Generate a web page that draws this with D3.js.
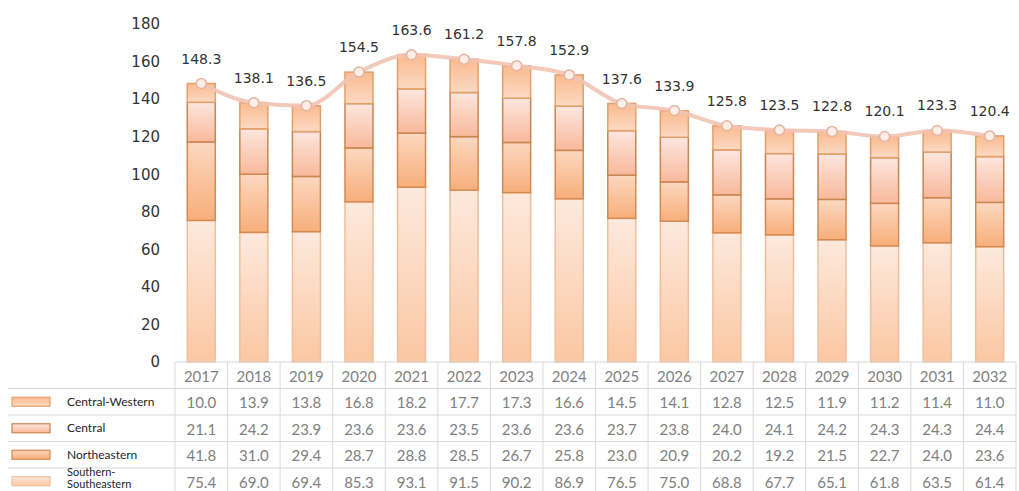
<!DOCTYPE html>
<html>
<head>
<meta charset="utf-8">
<script src="https://cdn.jsdelivr.net/npm/d3@7"></script>
<style>
  html, body { margin: 0; padding: 0; background: #fff; }
  svg { display: block; }
</style>
</head>
<body>
<svg id="chart" width="1019" height="491"></svg>
<script>
// Years shown on the category axis / table header
const years = ["2017","2018","2019","2020","2021","2022","2023","2024","2025","2026","2027","2028","2029","2030","2031","2032"];

// Regional values (stacked bottom to top: Southern-Southeastern, Northeastern, Central, Central-Western)
const southern      = [75.4, 69.0, 69.4, 85.3, 93.1, 91.5, 90.2, 86.9, 76.5, 75.0, 68.8, 67.7, 65.1, 61.8, 63.5, 61.4];
const northeastern  = [41.8, 31.0, 29.4, 28.7, 28.8, 28.5, 26.7, 25.8, 23.0, 20.9, 20.2, 19.2, 21.5, 22.7, 24.0, 23.6];
const central       = [21.1, 24.2, 23.9, 23.6, 23.6, 23.5, 23.6, 23.6, 23.7, 23.8, 24.0, 24.1, 24.2, 24.3, 24.3, 24.4];
const centralWest   = [10.0, 13.9, 13.8, 16.8, 18.2, 17.7, 17.3, 16.6, 14.5, 14.1, 12.8, 12.5, 11.9, 11.2, 11.4, 11.0];

// Totals shown above each bar
const totals = [148.3, 138.1, 136.5, 154.5, 163.6, 161.2, 157.8, 152.9, 137.6, 133.9, 125.8, 123.5, 122.8, 120.1, 123.3, 120.4];

const yTicks = [0, 20, 40, 60, 80, 100, 120, 140, 160, 180];

// Series in stacking order with their gradient stops
const seriesDefs = [
  { key: "Southern-Southeastern", label: ["Southern-", "Southeastern"], values: southern,
    top: "#fde9dd", bottom: "#fbc7a2", edge: "#efbf9d" },
  { key: "Northeastern", label: ["Northeastern"], values: northeastern,
    top: "#fcd8c0", bottom: "#f7ae7a", edge: "#d48a52" },
  { key: "Central", label: ["Central"], values: central,
    top: "#fde6de", bottom: "#f8b99b", edge: "#c98552" },
  { key: "Central-Western", label: ["Central-Western"], values: centralWest,
    top: "#f9bb90", bottom: "#fcd9c2", edge: "#e3a06c" }
];
// Table rows are listed top stack first
const tableOrder = [3, 2, 1, 0];

const svg = d3.select("#chart");
const defs = svg.append("defs");

seriesDefs.forEach((s, i) => {
  const g = defs.append("linearGradient")
    .attr("id", "grad" + i).attr("x1", 0).attr("y1", 0).attr("x2", 0).attr("y2", 1);
  g.append("stop").attr("offset", "0%").attr("stop-color", s.top);
  g.append("stop").attr("offset", "100%").attr("stop-color", s.bottom);
});

const tableLeft = 175, tableRight = 1016;
const x = d3.scaleBand().domain(years).range([tableLeft, tableRight]).paddingInner(0).paddingOuter(0);
const y = d3.scaleLinear().domain([0, 180]).range([362, 24]);
const barW = 28;

// Y axis labels
const yAxis = svg.append("g").attr("transform", "translate(160,0)")
  .call(d3.axisLeft(y).tickValues(yTicks).tickSize(0).tickPadding(0));
yAxis.select(".domain").remove();
yAxis.selectAll("text")
  .attr("font-family", "DejaVu Sans, Verdana, sans-serif")
  .attr("font-size", 15).attr("fill", "#333");

// Stacked bars
const stackData = years.map((yr, j) => {
  const o = { year: yr };
  seriesDefs.forEach(s => { o[s.key] = s.values[j]; });
  return o;
});
const stack = d3.stack().keys(seriesDefs.map(s => s.key));
const layers = stack(stackData);

const barsG = svg.append("g");
layers.forEach((layer, i) => {
  const s = seriesDefs[i];
  barsG.append("g").selectAll("rect").data(layer).join("rect")
    .attr("x", d => x(d.data.year) + (x.bandwidth() - barW) / 2)
    .attr("y", d => y(d[1]))
    .attr("width", barW)
    .attr("height", d => y(d[0]) - y(d[1]))
    .attr("fill", `url(#grad${i})`)
    .attr("stroke", s.edge)
    .attr("stroke-width", 1.5);
});

// Total line with markers
const line = d3.line()
  .x((d, j) => x(years[j]) + x.bandwidth() / 2)
  .y(d => y(d))
  .curve(d3.curveMonotoneX);

svg.append("path").datum(totals)
  .attr("d", line)
  .attr("fill", "none")
  .attr("stroke", "#f2c3b2")
  .attr("stroke-width", 4)
  .attr("opacity", 0.9);

svg.append("g").selectAll("circle").data(totals).join("circle")
  .attr("cx", (d, j) => x(years[j]) + x.bandwidth() / 2)
  .attr("cy", d => y(d))
  .attr("r", 5)
  .attr("fill", "#fdeee8")
  .attr("stroke", "#e6b3a0")
  .attr("stroke-width", 1.5);

svg.append("g").selectAll("text").data(totals).join("text")
  .attr("x", (d, j) => x(years[j]) + x.bandwidth() / 2)
  .attr("y", d => y(d) - 20)
  .attr("text-anchor", "middle")
  .attr("font-family", "DejaVu Sans, Verdana, sans-serif")
  .attr("font-size", 14)
  .attr("fill", "#333")
  .text(d => d.toFixed(1));

// Data table below the chart
const headerTop = 362, rowH = 26.5;
const rowTops = [headerTop + rowH, headerTop + 2 * rowH, headerTop + 3 * rowH, headerTop + 4 * rowH];
const grid = svg.append("g").attr("stroke", "#d9d9d9").attr("stroke-width", 1);

// header top line and column separators
grid.append("line").attr("x1", tableLeft).attr("x2", tableRight).attr("y1", headerTop).attr("y2", headerTop);
years.forEach(yr => {
  grid.append("line").attr("x1", x(yr)).attr("x2", x(yr)).attr("y1", headerTop).attr("y2", 491);
});
grid.append("line").attr("x1", tableRight).attr("x2", tableRight).attr("y1", headerTop).attr("y2", 491);
// row lines
rowTops.forEach(t => {
  grid.append("line").attr("x1", 8).attr("x2", tableRight).attr("y1", t).attr("y2", t);
});

const tableFont = "Lato, 'Open Sans', sans-serif";
svg.append("g").selectAll("text").data(years).join("text")
  .attr("x", d => x(d) + x.bandwidth() / 2)
  .attr("y", headerTop + rowH / 2 + 1)
  .attr("dy", "0.35em")
  .attr("text-anchor", "middle")
  .attr("font-family", tableFont)
  .attr("font-size", 15)
  .attr("fill", "#7f7f7f")
  .text(d => d);

tableOrder.forEach((si, r) => {
  const s = seriesDefs[si];
  const cy = rowTops[r] + rowH / 2;
  const g = svg.append("g");
  // legend swatch
  g.append("rect")
    .attr("x", 12).attr("y", cy - 4.5).attr("width", 38).attr("height", 9)
    .attr("fill", `url(#grad${si})`).attr("stroke", s.edge).attr("stroke-width", 1.2);
  // legend text
  const lt = g.append("text")
    .attr("x", 67)
    .attr("font-family", tableFont)
    .attr("font-size", s.label.length > 1 ? 11 : 12)
    .attr("fill", "#262626");
  if (s.label.length > 1) {
    s.label.forEach((t, k) => {
      lt.append("tspan").attr("x", 67).attr("y", cy - 5 + k * 12).text(t);
    });
  } else {
    lt.attr("y", cy).attr("dy", "0.35em").text(s.label[0]);
  }
  // values
  g.selectAll("text.val").data(s.values).join("text")
    .attr("class", "val")
    .attr("x", (d, j) => x(years[j]) + x.bandwidth() / 2)
    .attr("y", cy + 1)
    .attr("dy", "0.35em")
    .attr("text-anchor", "middle")
    .attr("font-family", tableFont)
    .attr("font-size", 15)
    .attr("fill", "#808080")
    .text(d => d.toFixed(1));
});
</script>
</body>
</html>
